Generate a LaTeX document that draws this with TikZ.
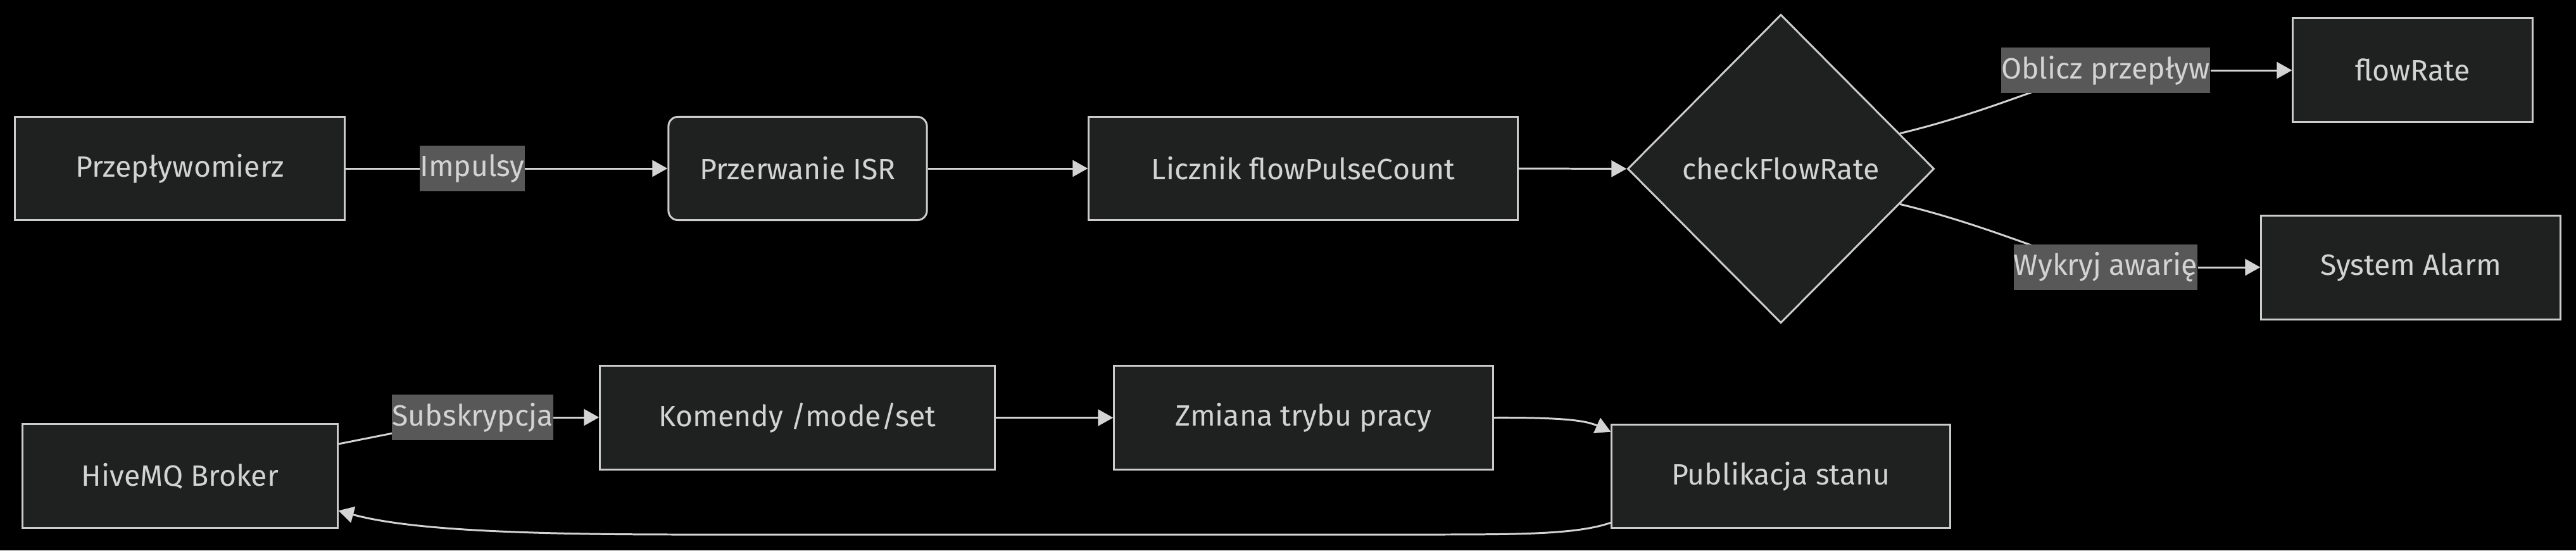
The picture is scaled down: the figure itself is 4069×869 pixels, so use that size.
\documentclass[tikz,border=0pt]{standalone}
\usepackage{fontspec}
\setmainfont{Fira Sans}
\usetikzlibrary{shapes.geometric,arrows.meta,calc}
\definecolor{nodefill}{HTML}{1F2020}
\definecolor{nodeline}{HTML}{CCCCCC}
\definecolor{txt}{HTML}{D3D3D3}
\definecolor{lblfill}{HTML}{585858}
\definecolor{edgecol}{HTML}{D3D3D3}
\pgfdeclarelayer{bg}
\pgfdeclarelayer{edges}
\pgfsetlayers{bg,edges,main}
\tikzset{
  box/.style={draw=nodeline, fill=nodefill, line width=0.85pt, text=txt, inner sep=0pt, minimum height=1.63cm},
  dec/.style={diamond, draw=nodeline, fill=nodefill, line width=0.85pt, text=txt, inner sep=0pt, minimum width=4.84cm, minimum height=4.87cm},
  lbl/.style={fill=lblfill, text=txt, inner xsep=0pt, inner ysep=0pt, minimum height=0.72cm},
  edge/.style={draw=edgecol, line width=0.85pt},
  arr/.style={edge, -{Triangle[length=0.24cm, width=0.26cm]}},
}
\begin{document}
\begin{tikzpicture}[x=0.01cm, y=-0.01cm, font=\fontsize{13.2pt}{15pt}\selectfont]
\begin{pgfonlayer}{bg}
\fill[black] (0,0) rectangle (4069,869);
\end{pgfonlayer}
\useasboundingbox (0,0) rectangle (4069,869);
% top row
\node[box, minimum width=5.20cm] (prz) at (284,266) {Przepływomierz};
\node[box, minimum width=4.08cm, rounded corners=0.15cm] (isr) at (1260,266) {Przerwanie ISR};
\node[box, minimum width=6.77cm] (lic) at (2058.5,266) {Licznik flowPulseCount};
\node[dec] (chk) at (2813,266.5) {checkFlowRate};
\node[box, minimum width=3.78cm] (flow) at (3811,110.5) {flowRate};
\node[box, minimum width=4.72cm] (alarm) at (3808,422.5) {System Alarm};
% bottom row
\node[box, minimum width=4.97cm] (hive) at (284.5,751.5) {HiveMQ Broker};
\node[box, minimum width=6.23cm] (kom) at (1259.5,659.5) {Komendy /mode/set};
\node[box, minimum width=5.98cm] (zmi) at (2059,659.5) {Zmiana trybu pracy};
\node[box, minimum width=5.34cm, minimum height=1.62cm] (pub) at (2813,752) {Publikacja stanu};
% edge labels
\node[lbl] (imp) at (746,266) {Impulsy};
\node[lbl] (obl) at (3326,111) {Oblicz przepływ};
\node[lbl] (wyk) at (3326,422) {Wykryj awarię};
\node[lbl] (sub) at (746.5,659) {Subskrypcja};
% helper coordinates
\coordinate (chkup) at ($(chk.east)!0.228!(chk.north)$);
\coordinate (chkdn) at ($(chk.east)!0.228!(chk.south)$);
\coordinate (hiveout) at ($(hive.north east)!0.196!(hive.south east)$);
\coordinate (hivein) at ($(hive.north east)!0.83!(hive.south east)$);
\coordinate (pubin) at ($(pub.north west)!0.074!(pub.south west)$);
\coordinate (pubout) at ($(pub.north west)!0.944!(pub.south west)$);
\begin{pgfonlayer}{edges}
\draw[edge] (prz.east) -- (imp.west);
\draw[arr] (imp.east) -- (isr.west);
\draw[arr] (isr.east) -- (lic.west);
\draw[arr] (lic.east) -- (chk.west);
\draw[edge] (chkup) .. controls (3150,175) and (3260,120) .. (obl.center);
\draw[arr] (obl.east) -- (flow.west |- obl.east);
\draw[edge] (chkdn) .. controls (3150,358) and (3260,413) .. (wyk.center);
\draw[arr] (wyk.east) -- (alarm.west |- wyk.east);
\draw[edge] (hiveout) -- (sub.center);
\draw[arr] (sub.east) -- (kom.west |- sub.east);
\draw[arr] (kom.east) -- (zmi.west);
\draw[arr] (zmi.east) .. controls (2470,659) and (2505,664) .. (pubin);
\draw[arr] (pubout) .. controls (2490,844) and (2400,844) .. (2244,844) -- (1078,844) .. controls (800,844) and (640,835) .. (hivein);
\end{pgfonlayer}
\end{tikzpicture}
\end{document}
